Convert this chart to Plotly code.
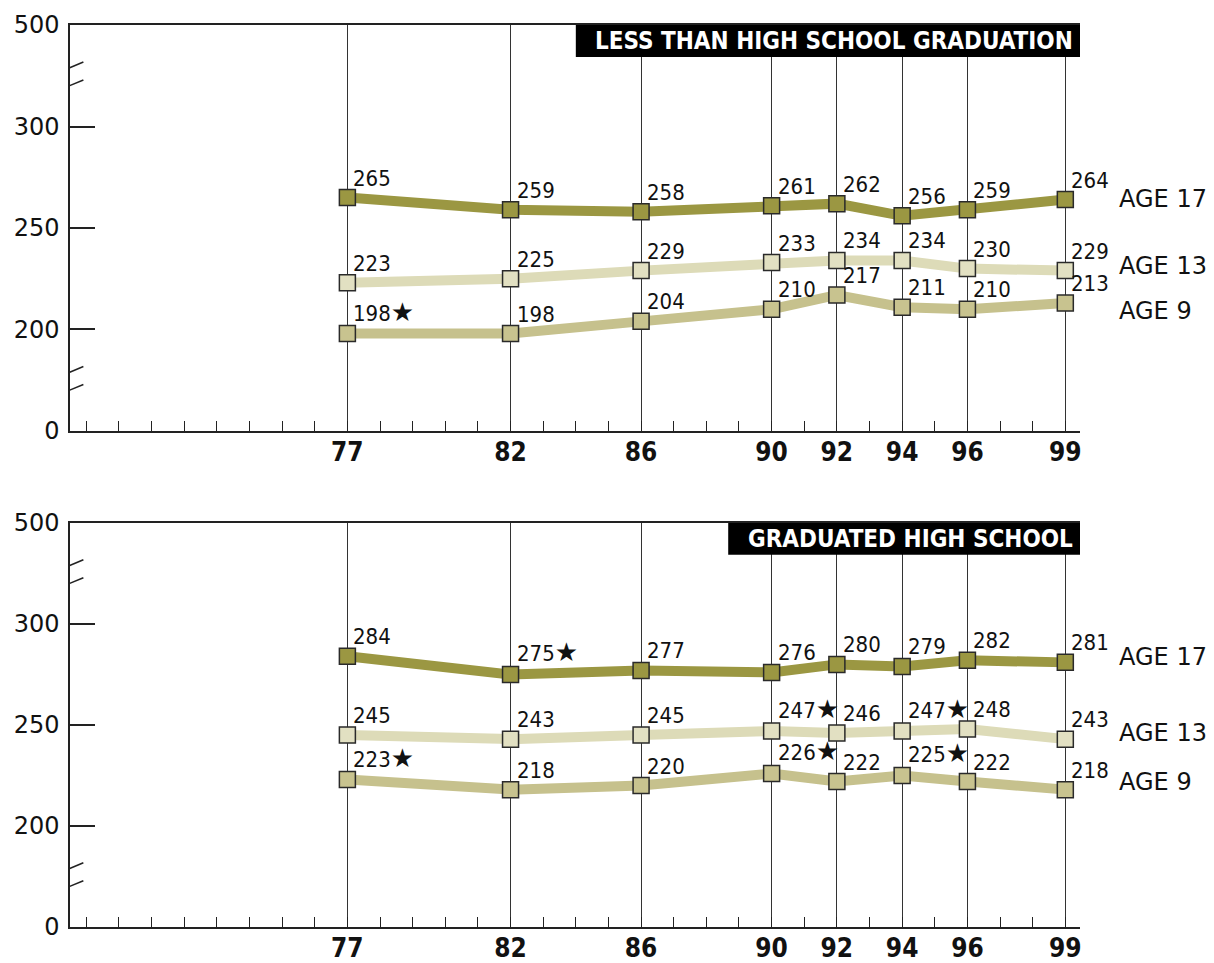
import plotly.graph_objects as go

# ---------------- data ----------------
years = [77, 82, 86, 90, 92, 94, 96, 99]
year_labels = ["77", "82", "86", "90", "92", "94", "96", "99"]

series_names = ["AGE 17", "AGE 13", "AGE 9"]

# Less than high school graduation
lths_age17 = [265, 259, 258, 261, 262, 256, 259, 264]
lths_age13 = [223, 225, 229, 233, 234, 234, 230, 229]
lths_age9 = [198, 198, 204, 210, 217, 211, 210, 213]
lths_star17 = [False] * 8
lths_star13 = [False] * 8
lths_star9 = [True, False, False, False, False, False, False, False]

# Graduated high school
ghs_age17 = [284, 275, 277, 276, 280, 279, 282, 281]
ghs_age13 = [245, 243, 245, 247, 246, 247, 248, 243]
ghs_age9 = [223, 218, 220, 226, 222, 225, 222, 218]
ghs_star17 = [False, True, False, False, False, False, False, False]
ghs_star13 = [False, False, False, True, False, True, False, False]
ghs_star9 = [True, False, False, True, False, True, False, False]

panel_titles = ["LESS THAN HIGH SCHOOL GRADUATION", "GRADUATED HIGH SCHOOL"]

y_tickvals = [150, 200, 250, 300, 350]
y_ticktext = ["0", "200", "250", "300", "500"]

# ---------------- styling ----------------
line_colors = ["#9b9742", "#dddbb8", "#c6c18d"]
marker_colors = ["#9b9742", "#e2e0c2", "#c8c38f"]
COND = "DejaVu Sans Condensed, DejaVu Sans, sans-serif"
GEO = "DejaVu Sans, sans-serif"
AX = "#222222"

X_RANGE = [68.5, 99.45]
Y_RANGE = [150, 350]
PX_PER_UNIT = 2.03

panels = [
    dict(vals=[lths_age17, lths_age13, lths_age9],
         stars=[lths_star17, lths_star13, lths_star9],
         label_off=[0.3, 2.3, -3.9], box_x0=84.0),
    dict(vals=[ghs_age17, ghs_age13, ghs_age9],
         stars=[ghs_star17, ghs_star13, ghs_star9],
         label_off=[2.5, 3.2, 3.9], box_x0=88.67),
]

fig = go.Figure()
annotations = []
shapes = []

for p, panel in enumerate(panels):
    xa = "x" if p == 0 else "x2"
    ya = "y" if p == 0 else "y2"
    for s in range(3):
        vals = panel["vals"][s]
        fig.add_trace(go.Scatter(
            x=years, y=vals, xaxis=xa, yaxis=ya, mode="lines+markers",
            line=dict(color=line_colors[s], width=10),
            marker=dict(symbol="square", size=16, color=marker_colors[s],
                        line=dict(color="#2a2a2a", width=1.5)),
            showlegend=False, hoverinfo="x+y", name=series_names[s]))
        for i, (yr, v) in enumerate(zip(years, vals)):
            txt = str(v)
            if panel["stars"][s][i]:
                txt += "<span style='font-family:DejaVu Sans;font-size:26px'>★</span>"
            annotations.append(dict(
                x=yr, y=v, xref=xa, yref=ya, text=txt, showarrow=False,
                xanchor="left", yanchor="bottom", xshift=4, yshift=5,
                font=dict(family=COND, size=22, color="#111")))
        # series label on the right
        annotations.append(dict(
            x=(1117 - 70) / 1010, y=vals[-1] + panel["label_off"][s],
            xref=xa + " domain", yref=ya,
            text=series_names[s], showarrow=False, xanchor="left", yanchor="middle",
            font=dict(family=GEO, size=24, color="#111")))

    # title box
    ytop = 350
    ybot = 350 - 32 / PX_PER_UNIT
    shapes.append(dict(type="rect", xref=xa, yref=ya, x0=panel["box_x0"], x1=X_RANGE[1],
                       y0=ybot, y1=ytop, fillcolor="black", line=dict(width=0),
                       layer="above"))
    annotations.append(dict(
        x=99.3, y=(ytop + ybot) / 2, xref=xa, yref=ya, text=panel_titles[p],
        showarrow=False, xanchor="right", yanchor="middle",
        font=dict(family=COND, size=24, color="white", weight="bold")))

    # axis break marks
    dxl, dxr = -0.29, 0.41
    half = 2.35
    gap = 4.43
    slope = (2 * half) / (dxr - dxl)
    x0a = X_RANGE[0]
    xm = x0a + (dxl + dxr) / 2
    for yc in (325, 175):
        xa0, xa1 = x0a - 0.08, x0a + 0.08

        def yl(x, off):
            return yc + off + (x - xm) * slope
        path = (f"M {xa0},{yl(xa0, -gap)} L {xa1},{yl(xa1, -gap)} "
                f"L {xa1},{yl(xa1, gap)} L {xa0},{yl(xa0, gap)} Z")
        shapes.append(dict(type="path", xref=xa, yref=ya, path=path,
                           fillcolor="white", line=dict(width=0), layer="above"))
        for off in (-gap, gap):
            shapes.append(dict(type="line", xref=xa, yref=ya,
                               x0=x0a + dxl, y0=yl(x0a + dxl, off),
                               x1=x0a + dxr, y1=yl(x0a + dxr, off),
                               line=dict(color=AX, width=1.5), layer="above"))

xaxis_common = dict(
    range=X_RANGE, tickmode="array", tickvals=years, ticktext=year_labels,
    ticks="inside", ticklen=10, tickwidth=1.3, tickcolor=AX,
    showgrid=True, gridcolor="#333333", gridwidth=1.3,
    showline=True, linecolor=AX, linewidth=1.5, mirror=True,
    zeroline=False, automargin=False, ticklabelstandoff=-3,
    tickfont=dict(family=COND, size=26, color="#111", weight="bold"),
    minor=dict(ticks="inside", ticklen=10, tickwidth=1.3, tickcolor=AX,
               tick0=69, dtick=1, showgrid=False),
)
yaxis_common = dict(
    range=Y_RANGE, tickmode="array", tickvals=y_tickvals, ticktext=y_ticktext,
    ticks="inside", ticklen=25, tickwidth=1.5, tickcolor=AX,
    showgrid=False, showline=True, linecolor=AX, linewidth=1.5,
    zeroline=False, automargin=False, ticklabelstandoff=4,
    tickfont=dict(family=GEO, size=24, color="#111"),
)

# page body has an 8px margin, so the figure is 8px smaller on each axis
fig.update_layout(
    width=1206, height=955,
    margin=dict(l=62, r=134, t=17, b=36),
    paper_bgcolor="white", plot_bgcolor="white",
    xaxis=dict(domain=[0, 1], anchor="y", **xaxis_common),
    yaxis=dict(domain=[0.5499, 1], anchor="x", **yaxis_common),
    xaxis2=dict(domain=[0, 1], anchor="y2", **xaxis_common),
    yaxis2=dict(domain=[0, 0.4479], anchor="x2", **yaxis_common),
    annotations=annotations, shapes=shapes,
)

fig.write_html("out.html")
